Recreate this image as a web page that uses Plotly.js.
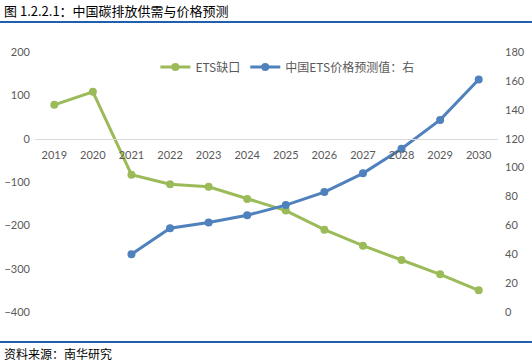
<!DOCTYPE html>
<html>
<head>
<meta charset="utf-8">
<script src="https://cdn.plot.ly/plotly-3.0.1.min.js"></script>
<style>html,body{margin:0;padding:0;background:#fff;}#chart{width:532px;height:364px;}</style>
</head>
<body>
<div id="chart"></div>
<script>
const years = ["2019","2020","2021","2022","2023","2024","2025","2026","2027","2028","2029","2030"];
const etsGap = [78, 108, -83, -105, -111, -139, -166, -210, -247, -280, -313, -350];
const priceYears = ["2021","2022","2023","2024","2025","2026","2027","2028","2029","2030"];
const priceForecast = [40, 58, 62, 67, 74, 83, 96, 113, 133, 161];
const gapName = "ETS缺口";
const priceName = "中国ETS价格预测值：右";
const titleText = "图 1.2.2.1：中国碳排放供需与价格预测";
const sourceText = "资料来源：南华研究";

const tickFont = {family: "Lato, 'Noto Sans CJK SC', sans-serif", size: 11, color: "#595959"};

const traces = [
  {x: years, y: etsGap, name: gapName, type: "scatter", mode: "lines+markers",
   line: {color: "#9BBB59", width: 3}, marker: {color: "#9BBB59", size: 8}, yaxis: "y"},
  {x: priceYears, y: priceForecast, name: priceName, type: "scatter", mode: "lines+markers",
   line: {color: "#4F81BD", width: 3}, marker: {color: "#4F81BD", size: 8}, yaxis: "y2"}
];

const layout = {
  width: 532, height: 364,
  margin: {l: 35, r: 34, t: 52, b: 52},
  paper_bgcolor: "#fff", plot_bgcolor: "#fff",
  showlegend: true,
  legend: {orientation: "h", x: 0.26, y: 0.942, xanchor: "left", yanchor: "middle",
           font: {family: "'Noto Sans CJK SC', sans-serif", size: 12, color: "#595959"},
           bgcolor: "rgba(0,0,0,0)", itemwidth: 30},
  xaxis: {type: "category", categoryorder: "array", categoryarray: years, range: [-0.5, 11.5],
          anchor: "free", position: 0.6667, showline: true, linecolor: "#D9D9D9", linewidth: 1,
          showgrid: false, zeroline: false, ticks: "", tickfont: tickFont, ticklabelstandoff: 6},
  yaxis: {range: [-400, 200], dtick: 100, showgrid: false, zeroline: false, showline: false,
          ticks: "", tickfont: tickFont, ticklabelstandoff: 4},
  yaxis2: {range: [0, 180], dtick: 20, overlaying: "y", side: "right", showgrid: false,
           zeroline: false, showline: false, ticks: "", tickfont: tickFont, ticklabelstandoff: 6},
  shapes: [
    {type: "line", xref: "paper", yref: "paper", x0: -0.0756, x1: 1.0734, y0: 1.1154, y1: 1.1154,
     line: {color: "#1F5FAD", width: 2}},
    {type: "line", xref: "paper", yref: "paper", x0: -0.0756, x1: 1.0734, y0: -0.1154, y1: -0.1154,
     line: {color: "#1F5FAD", width: 2}}
  ],
  annotations: [
    {text: titleText, xref: "paper", yref: "paper", x: -0.0713, y: 1.1615, xanchor: "left", yanchor: "middle",
     showarrow: false, font: {family: "'Noto Sans CJK SC', sans-serif", size: 13, color: "#000"}},
    {text: sourceText, xref: "paper", yref: "paper", x: -0.0713, y: -0.1615, xanchor: "left", yanchor: "middle",
     showarrow: false, font: {family: "'Noto Sans CJK SC', sans-serif", size: 12, color: "#000"}}
  ]
};

Plotly.newPlot("chart", traces, layout, {displayModeBar: false, staticPlot: true});
</script>
</body>
</html>
